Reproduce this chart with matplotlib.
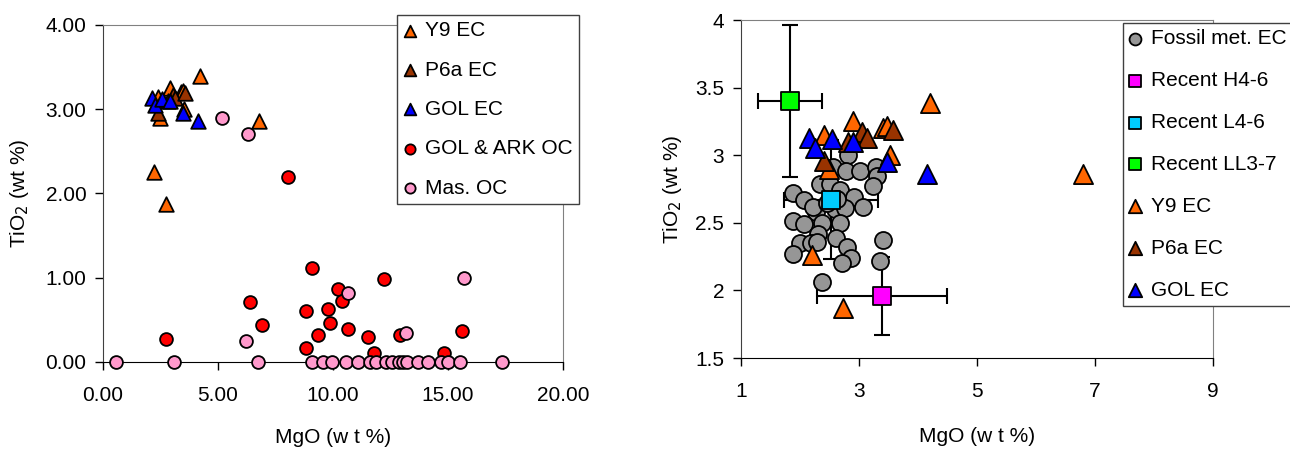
import matplotlib
matplotlib.use('Agg')
import matplotlib.pyplot as plt
from matplotlib.ticker import FormatStrFormatter

plt.rcParams['font.family'] = ['Liberation Sans', 'DejaVu Sans']
plt.rcParams['font.size'] = 15

# enstatite chondrites (both panels)
y9_mgo = [4.2, 6.8, 2.9, 2.4, 3.4, 3.47, 3.53, 2.5, 2.2, 2.73]
y9_tio2 = [3.39, 2.86, 3.25, 3.15, 3.2, 3.22, 3.0, 2.9, 2.26, 1.87]
p6a_mgo = [2.4, 2.82, 3.05, 3.14, 3.58]
p6a_tio2 = [2.96, 3.1, 3.17, 3.13, 3.19]
gol_mgo = [2.15, 2.25, 2.55, 2.9, 3.47, 4.15]
gol_tio2 = [3.13, 3.05, 3.12, 3.1, 2.95, 2.86]

# ordinary chondrites (left panel)
ark_mgo = [8.04, 2.74, 6.39, 6.91, 8.83, 8.83, 9.09, 9.35, 9.8, 9.87, 10.2, 10.39,
           10.66, 12.23, 11.52, 11.78, 12.91, 14.83, 15.6]
ark_tio2 = [2.19, 0.27, 0.71, 0.44, 0.61, 0.16, 1.11, 0.32, 0.63, 0.46, 0.87, 0.72,
            0.39, 0.99, 0.3, 0.11, 0.32, 0.11, 0.37]
mas_mgo = [5.17, 6.3, 0.57, 3.09, 6.22, 6.74, 9.09, 10.66, 13.17, 15.7, 9.58, 9.97,
           10.57, 11.1, 11.6, 11.87, 12.3, 12.55, 12.88, 13.05, 13.23, 13.68, 14.13,
           14.68, 15.0, 15.52, 17.34]
mas_tio2 = [2.89, 2.71, 0, 0, 0.25, 0, 0, 0.82, 0.34, 1.0, 0, 0,
            0, 0, 0, 0, 0, 0, 0, 0, 0, 0, 0,
            0, 0, 0, 0]

# fossil meteorite EC (right panel)
fossil_mgo = [2.81, 2.56, 2.78, 3.02, 3.29, 3.3, 3.24, 2.34, 2.51, 2.68, 2.92, 3.07,
              1.88, 2.07, 2.27, 2.59, 2.76, 1.88, 2.07, 2.37, 2.68, 2.3, 2.61, 2.0,
              2.18, 2.29, 2.79, 2.86, 2.71, 1.88, 2.37, 3.41, 3.36, 2.22, 2.45, 2.62]
fossil_tio2 = [3.0, 2.91, 2.88, 2.88, 2.91, 2.85, 2.77, 2.79, 2.79, 2.74, 2.69, 2.62,
               2.72, 2.67, 2.58, 2.6, 2.61, 2.51, 2.49, 2.5, 2.5, 2.42, 2.39, 2.35,
               2.35, 2.36, 2.32, 2.24, 2.2, 2.27, 2.06, 2.37, 2.22, 2.62, 2.65, 2.68]

# recent falls: mean and spread
recent_names = ['Recent H4-6', 'Recent L4-6', 'Recent LL3-7']
recent_mgo = [3.39, 2.53, 1.83]
recent_tio2 = [1.96, 2.67, 3.40]
recent_mgo_err = [1.1, 0.8, 0.54]
recent_tio2_err = [0.29, 0.44, 0.56]
recent_colors = ['#FF00FF', '#00CCFF', '#00FF00']


def style_axes(ax):
    ax.spines['top'].set_color('#808080')
    ax.spines['right'].set_color('#808080')
    ax.spines['left'].set_color('#404040')
    ax.spines['bottom'].set_color('black')
    ax.tick_params(direction='out', length=6, width=1, colors='black', labelsize=15)
    ax.tick_params(axis='x', pad=11)
    ax.tick_params(axis='y', pad=6)


fig = plt.figure(figsize=(12.9, 4.5), dpi=100)

# left panel
ax1 = fig.add_axes([0.0798, 0.1956, 0.3566, 0.749])
tri = dict(marker='^', s=110, edgecolors='black', linewidths=1.3, clip_on=False)
dot = dict(marker='o', s=85, edgecolors='black', linewidths=1.3, clip_on=False)
ax1.scatter(y9_mgo, y9_tio2, c='#FF6600', label='Y9 EC', zorder=4, **tri)
ax1.scatter(p6a_mgo, p6a_tio2, c='#993300', label='P6a EC', zorder=4, **tri)
ax1.scatter(gol_mgo, gol_tio2, c='#0000FF', label='GOL EC', zorder=4, **tri)
ax1.scatter(ark_mgo, ark_tio2, c='#FF0000', label='GOL & ARK OC', zorder=3, **dot)
ax1.scatter(mas_mgo, mas_tio2, c='#FF99CC', label='Mas. OC', zorder=3, **dot)
ax1.set_xlim(0, 20)
ax1.set_ylim(0, 4)
ax1.set_xticks([0, 5, 10, 15, 20])
ax1.set_yticks([0, 1, 2, 3, 4])
ax1.xaxis.set_major_formatter(FormatStrFormatter('%.2f'))
ax1.yaxis.set_major_formatter(FormatStrFormatter('%.2f'))
ax1.set_xlabel('MgO (w t %)', fontsize=15, labelpad=17)
ax1.set_ylabel('TiO$_2$ (wt %)', fontsize=15, labelpad=10)
style_axes(ax1)
leg1 = ax1.legend(loc='upper left', bbox_to_anchor=(0.3078, 0.967),
                  bbox_transform=fig.transFigure, markerscale=0.8, fontsize=15,
                  frameon=True, fancybox=False, framealpha=1, edgecolor='#404040',
                  handlelength=0.6, handletextpad=0.45, labelspacing=0.98,
                  borderpad=0.3, borderaxespad=0)
leg1.get_frame().set_linewidth(1.0)

# right panel
ax2 = fig.add_axes([0.5744, 0.2044, 0.3659, 0.751])
ax2.scatter(fossil_mgo, fossil_tio2, marker='o', s=150, c='#969696',
            edgecolors='black', linewidths=1.3, label='Fossil met. EC', zorder=3)
for name, mx, ty, ex, ey, col in zip(recent_names, recent_mgo, recent_tio2,
                                      recent_mgo_err, recent_tio2_err, recent_colors):
    ax2.errorbar(mx, ty, xerr=ex, yerr=ey, fmt='none', ecolor='black',
                 elinewidth=1.5, capsize=6, capthick=1.5, zorder=2)
    ax2.scatter(mx, ty, marker='s', s=150, c=col, edgecolors='black',
                linewidths=1.3, label=name, zorder=5)
tri2 = dict(marker='^', s=190, edgecolors='black', linewidths=1.3, zorder=4)
ax2.scatter(y9_mgo, y9_tio2, c='#FF6600', label='Y9 EC', **tri2)
ax2.scatter(p6a_mgo, p6a_tio2, c='#993300', label='P6a EC', **tri2)
ax2.scatter(gol_mgo, gol_tio2, c='#0000FF', label='GOL EC', **tri2)
ax2.set_xlim(1, 9)
ax2.set_ylim(1.5, 4)
ax2.set_xticks([1, 3, 5, 7, 9])
ax2.set_yticks([1.5, 2, 2.5, 3, 3.5, 4])
ax2.set_yticklabels(['1.5', '2', '2.5', '3', '3.5', '4'])
ax2.set_xlabel('MgO (w t %)', fontsize=15, labelpad=19)
ax2.set_ylabel('TiO$_2$ (wt %)', fontsize=15, labelpad=8)
style_axes(ax2)
leg2 = ax2.legend(loc='upper left', bbox_to_anchor=(0.8705, 0.949),
                  bbox_transform=fig.transFigure, markerscale=0.7, fontsize=15,
                  frameon=True, fancybox=False, framealpha=1, edgecolor='#404040',
                  handlelength=0.6, handletextpad=0.45, labelspacing=1.1,
                  borderpad=0.3, borderaxespad=0)
leg2.get_frame().set_linewidth(1.0)

plt.savefig('out.png', dpi=100)
